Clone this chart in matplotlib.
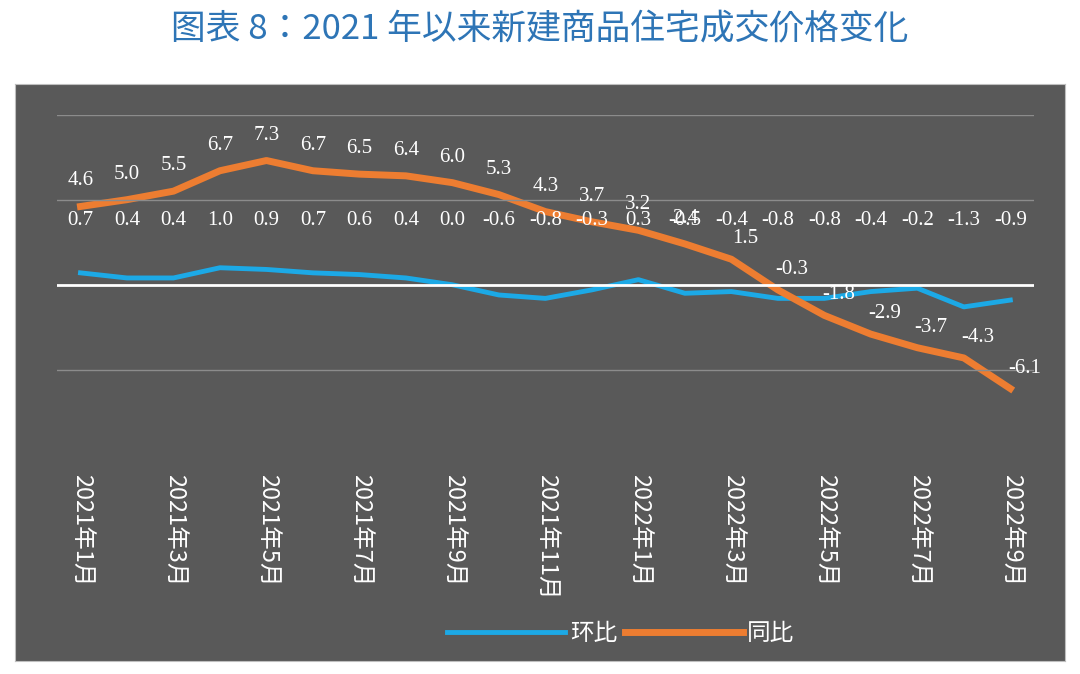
import matplotlib.pyplot as plt

plt.rcParams['font.family'] = 'sans-serif'
plt.rcParams['font.sans-serif'] = ['Noto Sans CJK SC', 'Noto Sans CJK JP', 'DejaVu Sans']

months = ['2021年1月', '2021年2月', '2021年3月', '2021年4月', '2021年5月', '2021年6月',
          '2021年7月', '2021年8月', '2021年9月', '2021年10月', '2021年11月', '2021年12月',
          '2022年1月', '2022年2月', '2022年3月', '2022年4月', '2022年5月', '2022年6月',
          '2022年7月', '2022年8月', '2022年9月']
mom = [0.7, 0.4, 0.4, 1.0, 0.9, 0.7, 0.6, 0.4, 0.0, -0.6, -0.8, -0.3, 0.3, -0.5,
       -0.4, -0.8, -0.8, -0.4, -0.2, -1.3, -0.9]
yoy = [4.6, 5.0, 5.5, 6.7, 7.3, 6.7, 6.5, 6.4, 6.0, 5.3, 4.3, 3.7, 3.2, 2.4, 1.5,
       -0.3, -1.8, -2.9, -3.7, -4.3, -6.1]

bg = '#595959'
fig = plt.figure(figsize=(10.8, 6.74), dpi=100)
bgax = fig.add_axes([0.014, 0.02, 0.972, 0.855], zorder=-5)
bgax.set_facecolor(bg)
bgax.set_xticks([])
bgax.set_yticks([])
for s in bgax.spines.values():
    s.set_color('#bfbfbf')
fig.text(0.5, 0.955, '图表 8：2021 年以来新建商品住宅成交价格变化', ha='center', va='center',
         fontsize=25, color='#2E75B6')

ax = fig.add_axes([0.053, 0.325, 0.904, 0.505])
ax.patch.set_alpha(0)
x = list(range(len(months)))
ax.plot(x, mom, color='#1CA9E6', lw=3.5, label='环比')
ax.plot(x, yoy, color='#ED7D31', lw=5, label='同比')
for xi, v in zip(x, mom):
    ax.text(xi, 3.8, f'{v:.1f}', ha='center', va='center', color='white', fontsize=15,
            family='Liberation Serif')
for xi, v in zip(x, yoy):
    dy = 1.5 if v > 2 else 1.2
    ax.text(xi + (0.3 if v < 2 else 0), v + dy, f'{v:.1f}', ha='center', va='center',
            color='white', fontsize=15, family='Liberation Serif')
ax.set_xlim(-0.5, 20.5)
ax.set_ylim(-10, 10)
for y in (-5, 5, 10):
    ax.axhline(y, color='#8c8c8c', lw=1)
ax.axhline(0, color='white', lw=2)
for s in ax.spines.values():
    s.set_visible(False)
ax.set_yticks([])
ax.set_xticks(x[::2])
ax.set_xticklabels(months[::2], rotation=-90, color='white', fontsize=17)
ax.tick_params(axis='x', length=0, pad=14)
leg = fig.legend(*ax.get_legend_handles_labels(), loc='center', bbox_to_anchor=(0.575, 0.06),
                 ncol=2, frameon=False, fontsize=17, handlelength=5, columnspacing=0.3,
                 handletextpad=0.2)
for t in leg.get_texts():
    t.set_color('white')
fig.savefig('out.png')
